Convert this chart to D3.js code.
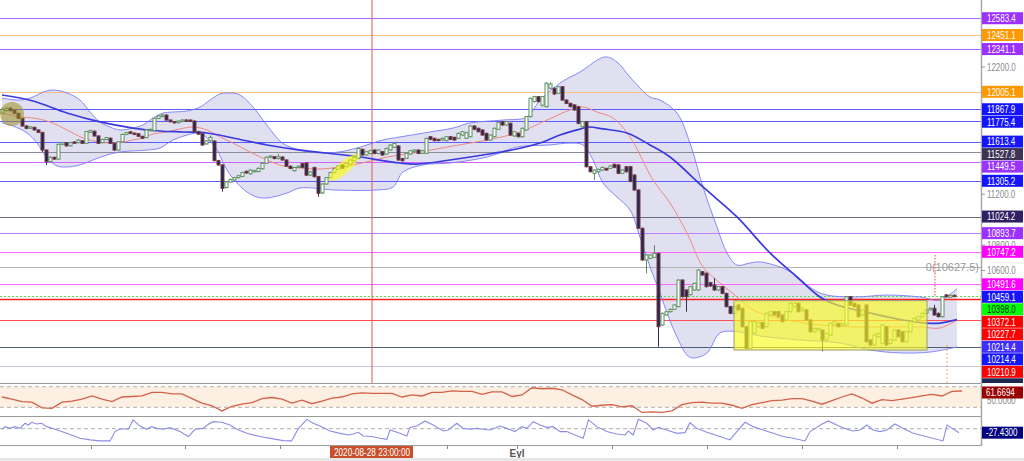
<!DOCTYPE html>
<html lang="tr">
<head>
    <meta charset="UTF-8">
    <script src="https://cdn.jsdelivr.net/npm/d3@7"></script>
    <title>Fiyat grafiği</title>
    <style>
        body { margin: 0; background: #fff; }
        svg { display: block; font-family: "Liberation Sans", Arial, sans-serif; }
    </style>
</head>
<body>
    <svg id="chart" width="1024" height="461"></svg>

    <script>
        // candles (2h bars), index 0 = left edge
        const candleOpen = [
            11836, 11857, 11875, 11862, 11836, 11797, 11736, 11718, 11725, 11705,
            11686, 11547, 11456, 11490, 11476, 11592, 11605, 11580, 11610, 11605,
            11620, 11600, 11686, 11695, 11658, 11605, 11630, 11640, 11600, 11547,
            11612, 11670, 11690, 11680, 11675, 11655, 11645, 11700, 11700, 11795,
            11810, 11822, 11783, 11770, 11762, 11772, 11783, 11783, 11775, 11692,
            11675, 11595, 11620, 11618, 11464, 11430, 11252, 11295, 11312, 11330,
            11340, 11380, 11360, 11380, 11378, 11400, 11443, 11490, 11495, 11480,
            11492, 11469, 11420, 11385, 11410, 11440, 11445, 11350, 11410, 11338,
            11210, 11280, 11330, 11370, 11396, 11430, 11416, 11435, 11463, 11482,
            11553, 11508, 11520, 11547, 11520, 11534, 11516, 11547, 11568, 11579,
            11479, 11482, 11516, 11534, 11547, 11521, 11521, 11652, 11639, 11631,
            11626, 11621, 11652, 11647, 11639, 11665, 11640, 11652, 11736, 11718,
            11705, 11678, 11626, 11652, 11710, 11770, 11744, 11757, 11658, 11678,
            11652, 11705, 11810, 11928, 11967, 11900, 11888, 12033, 12032, 11993,
            12045, 11940, 11914, 11902, 11888, 11731, 11770, 11416, 11364, 11377,
            11390, 11403, 11403, 11435, 11430, 11364, 11416, 11416, 11351, 11233,
            10932, 10683, 10696, 10704, 10735, 10171, 10250, 10276, 10295, 10316,
            10525, 10447, 10410, 10447, 10447, 10591, 10578, 10505, 10486, 10447,
            10473, 10420, 10316, 10263, 10329, 10303, 10158, 9988, 10106, 10158,
            10190, 10158, 10250, 10276, 10276, 10250, 10211, 10276, 10316, 10342,
            10284, 10290, 10211, 10119, 10132, 10132, 10054, 10093, 10171, 10184,
            10163, 10171, 10394, 10342, 10329, 10250, 10329, 10054, 10014, 10080,
            10027, 10158, 10027, 10054, 10132, 10119, 10040, 10119, 10198, 10211,
            10237, 10263, 10290, 10303, 10263, 10237, 10408, 10390, 10405
        ];
        const candleHigh = [
            11880, 11885, 11884, 11868, 11840, 11800, 11742, 11736, 11732, 11710,
            11690, 11552, 11498, 11495, 11598, 11612, 11610, 11612, 11618, 11632,
            11626, 11698, 11708, 11700, 11662, 11636, 11650, 11646, 11604, 11618,
            11676, 11690, 11696, 11686, 11680, 11660, 11710, 11716, 11802, 11822,
            11830, 11828, 11788, 11776, 11780, 11790, 11790, 11788, 11780, 11698,
            11680, 11626, 11660, 11624, 11470, 11436, 11304, 11322, 11336, 11352,
            11376, 11386, 11396, 11392, 11410, 11450, 11496, 11506, 11500, 11516,
            11498, 11474, 11426, 11416, 11426, 11446, 11450, 11380, 11416, 11344,
            11286, 11336, 11376, 11408, 11428, 11436, 11448, 11474, 11496, 11566,
            11558, 11540, 11548, 11552, 11552, 11540, 11566, 11592, 11606, 11584,
            11486, 11526, 11548, 11554, 11552, 11548, 11645, 11658, 11645, 11636,
            11645, 11658, 11658, 11652, 11684, 11696, 11690, 11742, 11742, 11724,
            11710, 11684, 11670, 11724, 11768, 11776, 11776, 11762, 11696, 11684,
            11724, 11816, 11960, 11974, 11972, 11972, 12080, 12080, 12040, 12052,
            12050, 11946, 11920, 11908, 11894, 11776, 11776, 11422, 11396, 11400,
            11416, 11408, 11428, 11440, 11436, 11396, 11422, 11422, 11356, 11238,
            10938, 10728, 10728, 10800, 10740, 10270, 10282, 10300, 10334, 10530,
            10530, 10452, 10478, 10504, 10610, 10596, 10584, 10510, 10540, 10478,
            10478, 10426, 10322, 10322, 10334, 10308, 10164, 10204, 10204, 10196,
            10196, 10270, 10282, 10282, 10282, 10256, 10282, 10348, 10348, 10348,
            10310, 10296, 10216, 10150, 10150, 10138, 10112, 10190, 10204, 10190,
            10186, 10400, 10400, 10348, 10334, 10296, 10334, 10060, 10100, 10112,
            10178, 10164, 10060, 10138, 10138, 10126, 10126, 10204, 10230, 10244,
            10270, 10296, 10310, 10330, 10270, 10400, 10414, 10410, 10410
        ];
        const candleLow = [
            11828, 11850, 11850, 11830, 11790, 11730, 11710, 11712, 11700, 11680,
            11534, 11430, 11445, 11470, 11470, 11585, 11575, 11575, 11595, 11600,
            11594, 11596, 11680, 11652, 11594, 11600, 11624, 11595, 11540, 11540,
            11606, 11664, 11672, 11664, 11650, 11634, 11640, 11694, 11695, 11790,
            11805, 11778, 11764, 11756, 11756, 11766, 11770, 11766, 11686, 11665,
            11580, 11588, 11614, 11458, 11424, 11220, 11246, 11290, 11306, 11324,
            11334, 11360, 11354, 11374, 11372, 11394, 11438, 11484, 11474, 11474,
            11463, 11414, 11396, 11378, 11404, 11404, 11344, 11344, 11330, 11180,
            11200, 11274, 11324, 11364, 11390, 11398, 11410, 11430, 11458, 11478,
            11502, 11502, 11514, 11514, 11514, 11502, 11510, 11540, 11562, 11462,
            11456, 11476, 11510, 11528, 11515, 11516, 11516, 11625, 11615, 11615,
            11620, 11615, 11625, 11620, 11634, 11660, 11634, 11646, 11704, 11686,
            11660, 11620, 11620, 11646, 11704, 11738, 11738, 11658, 11650, 11646,
            11646, 11700, 11804, 11920, 11920, 11888, 11882, 12025, 11980, 11988,
            11934, 11908, 11882, 11856, 11750, 11725, 11410, 11370, 11312, 11370,
            11384, 11384, 11398, 11404, 11358, 11358, 11370, 11294, 11226, 10926,
            10676, 10578, 10690, 10698, 10001, 10164, 10244, 10270, 10290, 10310,
            10388, 10276, 10404, 10440, 10440, 10558, 10466, 10472, 10440, 10440,
            10414, 10310, 10256, 10256, 10284, 10152, 9982, 9982, 10100, 10152,
            10138, 10152, 10244, 10244, 10230, 10192, 10204, 10270, 10310, 10270,
            10278, 10204, 10112, 10112, 10126, 9965, 10048, 10086, 10164, 10152,
            10156, 10164, 10322, 10310, 10230, 10244, 10034, 10008, 10008, 10074,
            10020, 10008, 10020, 10048, 10074, 10034, 10034, 10112, 10192, 10204,
            10230, 10256, 10284, 10244, 10230, 10230, 10388, 10384, 10392
        ];
        const candleClose = [
            11867, 11875, 11857, 11836, 11797, 11736, 11718, 11730, 11705, 11686,
            11547, 11456, 11490, 11476, 11592, 11605, 11580, 11605, 11600, 11625,
            11600, 11692, 11700, 11658, 11600, 11630, 11645, 11600, 11547, 11612,
            11670, 11684, 11678, 11670, 11655, 11640, 11705, 11710, 11797, 11815,
            11822, 11783, 11770, 11762, 11775, 11783, 11775, 11772, 11692, 11672,
            11587, 11620, 11647, 11464, 11430, 11246, 11297, 11316, 11330, 11345,
            11370, 11367, 11390, 11385, 11403, 11443, 11490, 11500, 11480, 11495,
            11469, 11420, 11402, 11410, 11420, 11410, 11350, 11375, 11338, 11207,
            11280, 11330, 11370, 11403, 11422, 11403, 11443, 11469, 11490, 11560,
            11508, 11534, 11542, 11520, 11547, 11508, 11560, 11586, 11600, 11469,
            11464, 11521, 11542, 11547, 11521, 11542, 11639, 11631, 11621, 11621,
            11639, 11652, 11631, 11626, 11678, 11691, 11684, 11736, 11710, 11691,
            11665, 11626, 11665, 11718, 11762, 11744, 11770, 11665, 11691, 11652,
            11718, 11810, 11954, 11967, 11928, 11967, 12072, 12066, 11988, 12045,
            11940, 11914, 11888, 11862, 11757, 11770, 11416, 11377, 11390, 11395,
            11411, 11390, 11422, 11411, 11364, 11390, 11377, 11300, 11233, 10932,
            10683, 10722, 10722, 10735, 10158, 10263, 10276, 10295, 10329, 10525,
            10394, 10394, 10473, 10499, 10604, 10565, 10473, 10478, 10447, 10473,
            10420, 10316, 10263, 10316, 10290, 10158, 9988, 10198, 10198, 10190,
            10145, 10263, 10276, 10250, 10237, 10198, 10276, 10342, 10342, 10276,
            10303, 10211, 10119, 10145, 10145, 10054, 10106, 10184, 10198, 10158,
            10180, 10394, 10329, 10316, 10237, 10290, 10040, 10014, 10093, 10106,
            10171, 10014, 10054, 10132, 10080, 10040, 10119, 10198, 10224, 10237,
            10263, 10290, 10303, 10250, 10237, 10394, 10394, 10405, 10398
        ];

        // bollinger band edges, its middle line and the slow average: [bar index, price]
        const upperBand = [[0,11956],[4.5,11940],[7.75,11964],[10.25,12003],[12.75,12019],[16.25,11996],[19.5,11940],[22,11846],[24.5,11768],[27,11728],[29.5,11705],[32.75,11720],[35.25,11744],[37.75,11799],[40.25,11838],[42.75,11846],[46.25,11854],[49.5,11885],[52,11940],[54.5,11988],[57,11996],[59.5,11980],[62.75,11886],[65.25,11783],[67.75,11681],[70.25,11598],[74.5,11547],[79.5,11525],[84.5,11533],[88.75,11563],[95.25,11626],[99.5,11650],[107,11689],[112.75,11720],[117,11760],[125.25,11783],[131.25,11807],[134.5,11940],[139.5,12074],[144.5,12161],[150.75,12279],[153.75,12239],[157,12121],[162,11964],[164.5,11940],[168.75,11838],[172,11602],[175.25,11256],[178.75,10942],[181.25,10738],[183.75,10643],[187,10659],[189.5,10667],[196.25,10604],[204.5,10423],[212.75,10392],[221.25,10407],[229.5,10392],[234.5,10368],[238.75,10459.1]];
        const lowerBand = [[0,11760],[2.75,11736],[6.25,11681],[8.75,11602],[11.25,11485],[13.75,11422],[16.25,11414],[19.5,11430],[22.75,11469],[26.25,11508],[29.5,11532],[36.25,11547],[39.5,11563],[42.75,11626],[46.25,11665],[49.5,11681],[51.25,11642],[53.75,11547],[56.25,11390],[58.75,11288],[61.25,11217],[63.75,11178],[66.25,11170],[71.25,11209],[74.5,11249],[83.25,11233],[93.75,11233],[97.75,11256],[100.25,11374],[105.25,11430],[112,11445],[120.25,11485],[124.5,11524],[128.75,11571],[137,11587],[142,11602],[145.25,11587],[147.75,11469],[150.25,11288],[153.75,11178],[157,11076],[159.5,10863],[162,10628],[164.5,10423],[166.25,10266],[168.75,10077],[171.25,9936],[172.75,9912],[176.25,9952],[179.5,10109],[184.5,10117],[189.5,10085],[199.5,10054],[209.5,10030],[217,9975],[224.5,9952],[232,9959],[238.75,9999]];
        const middleLine = [[0,11838],[4.5,11807],[7.75,11799],[12,11768],[16.25,11705],[20.25,11642],[24.5,11610],[28.75,11602],[32.75,11626],[35.25,11642],[37.75,11673],[41.25,11689],[44.5,11713],[47.75,11728],[51.25,11705],[54.5,11650],[57.75,11602],[62,11532],[66.25,11469],[70.25,11422],[74.5,11406],[79.5,11398],[87.75,11430],[96.25,11492],[104.5,11532],[112.75,11579],[121.25,11626],[129.5,11689],[136.25,11783],[142,11862],[145.25,11886],[148.75,11846],[152.75,11799],[157,11650],[162.75,11312],[167,11131],[171.25,10895],[175.25,10628],[179.5,10502],[183.75,10392],[187.75,10290],[196.25,10211],[204.5,10172],[212.75,10156],[221.25,10156],[229.5,10156],[234.5,10148],[238.75,10210.9]];
        const slowAverage = [[0,11980],[7.75,11933],[16.25,11838],[24.5,11768],[32.75,11720],[39.5,11697],[45.25,11689],[51.25,11681],[57.75,11642],[66.25,11587],[74.5,11547],[87.75,11500],[99.5,11445],[103.75,11437],[112,11469],[120.25,11508],[128.75,11555],[135.25,11610],[139.5,11665],[144.5,11712],[146.75,11728],[150.25,11713],[156.25,11681],[162,11587],[167,11492],[175.25,11257],[183.75,11021],[192,10738],[198.75,10549],[204.5,10392],[208.75,10329],[217,10266],[225.25,10211],[231.25,10187],[234.5,10187],[238.75,10214.4]];

        // RSI, one reading every 2.5 bars
        const rsiValues = [
            50, 46, 41, 40, 29, 28, 40, 42, 46, 52,
            46, 41, 50, 51, 52, 59, 59, 56, 56, 47,
            38, 33, 23, 32, 36, 39, 47, 49, 46, 38,
            44, 37, 42, 48, 50, 56, 58, 57, 57, 57,
            50, 54, 52, 59, 59, 62, 61, 61, 55, 60,
            60, 51, 54, 68, 66, 67, 64, 54, 45, 32,
            34, 35, 31, 33, 20, 21, 20, 23, 35, 39,
            40, 38, 38, 34, 28, 35, 39, 43, 44, 47,
            47, 42, 36, 43, 50, 56, 48, 38, 45, 43,
            46, 49, 52, 55, 52, 61, 61.6694
        ];
        const rsiStep = 2.5;

        // lower oscillator turning points: [bar index, value]
        const oscPoints = [[0,-4],[0.75,14],[2,2],[3.25,14],[4.5,2],[5.75,37],[6.6,25],[7.4,44],[8.7,32],[9.9,37],[11.2,14],[13.25,-4],[16.2,-32],[19.5,-66],[22,-77],[24.5,-84],[27,-84],[28.25,-20],[29.5,-2],[31.6,-2],[32.8,60],[34.5,18],[36.2,-4],[37.4,14],[38.7,2],[40.3,-4],[42,7],[44.5,-20],[46.6,-54],[48.25,-4],[50.3,2],[51.6,30],[52.8,48],[54.9,44],[57,25],[58.7,-4],[61.2,-32],[64.5,-54],[67.8,-70],[70.3,-82],[72.4,-84],[74.1,2],[74.9,25],[76.2,64],[77.8,37],[79.5,18],[82,-16],[84.5,-32],[86.6,-43],[87.8,-36],[89.1,-25],[90.3,-50],[92.4,-54],[94.5,-66],[96.2,-73],[97,-9],[99.5,-32],[101.2,-50],[102,9],[103.7,18],[105.75,53],[107.8,25],[110.3,-16],[111.6,-9],[113.7,37],[115.3,2],[117,-4],[118.7,2],[120.3,-4],[122,-9],[124.5,18],[126.2,2],[128.25,-20],[129.9,14],[131.2,2],[132.8,48],[134.5,25],[136.2,9],[137.8,14],[139.5,-20],[141.2,-20],[143.25,-43],[145.3,-66],[146.6,60],[148.7,14],[151.2,-20],[153.7,-36],[155.75,-43],[156.6,-16],[157.8,-43],[159.1,64],[161.2,37],[162.8,-9],[164.1,9],[166.2,-9],[168.7,-32],[170.75,-27],[172,41],[173.7,2],[176.2,-25],[179.5,-54],[182,-77],[183.7,-20],[185.75,44],[187.8,14],[190.3,-9],[192.8,-32],[195.3,-54],[197.8,-66],[200.75,-84],[202,-20],[203.7,9],[204.9,30],[206.6,53],[208.7,25],[211.2,-4],[212.8,-16],[214.5,-9],[216.2,25],[217.8,-9],[219.5,-20],[221.2,-9],[223.25,32],[225.3,2],[227.8,-32],[235.25,-84],[236.25,25],[239.25,-27.43]];

        // drawn horizontal levels
        const levelValues = [12583.4, 12451.1, 12341.1, 12005.1, 11867.9, 11775.4, 11613.4, 11527.8, 11449.5, 11305.2, 11024.2, 10893.7, 10747.2, 10627.5, 10491.6, 10398.0, 10372.1, 10210.9, 9999.0, 9849.0];
        const levelColors = ["#b366ff", "#ffc080", "#b366ff", "#ffc080", "#5b5bff", "#5b5bff", "#5b5bff", "#8c8c99", "#cc66ff", "#5b5bff", "#6b6b88", "#c080ff", "#ff66ff", "#b4b4b4", "#ff66ff", "#55dd55", "#ff2020", "#ff5050", "#4a5f7a", "#cfc8e0"];

        // price tags on the right axis (the last one sits below the panel edge)
        const tagValues = [12583.4, 12451.1, 12341.1, 12005.1, 11867.9, 11775.4, 11613.4, 11527.8, 11449.5, 11305.2, 11024.2, 10893.7, 10747.2, 10491.6, 10459.1, 10398.0, 10372.1, 10227.7, 10214.4, 10214.4, 10210.9, 9999.0];
        const tagColors = ["#9b30ff", "#ff9900", "#9b30ff", "#ff9900", "#1414ff", "#1414ff", "#1414ff", "#3d3354", "#9933ff", "#1414ff", "#2f1f63", "#9b30ff", "#ff00ff", "#ff00ff", "#1414ff", "#00ff00", "#ff0000", "#ff0000", "#3f2cff", "#1414ff", "#ff0000", "#1b2a4e"];

        // only the axis numbers that are not covered by tags
        const priceTicks = [10600, 10800, 11200, 12200];
        const timeTicks = [22.25, 45.75, 69.5, 92.5, 111.25, 128.75, 152.5, 176.25, 200, 223.75];
        const timeTickLabels = ["", "", "", "", "", "Eyl", "", "", "", ""];
        const crossIndex = 92.5;
        const crossLabel = "2020-08-28 23:00:00";

        const rangeBox = { from: 183, to: 231.25, top: 10363, bottom: 9975 };
        const trendMark = { from: [82, 11312], to: [89, 11508] };
        const startMark = [2.5, 11830];
        const fibLabel = "0(10627.5)";
        const redMarker = { at: 233.25, top: 10722, bottom: 10392 };
        const orangeMarker = { at: 236.25, top: 10014 };

        const plotRight = 981;
        const mainBottom = 383;
        const svg = d3.select("#chart");

        const x = d3.scaleLinear().domain([-0.5, 244.75]).range([0, plotRight]);
        const y = d3.scaleLinear().domain([9715.6, 12726.7]).range([mainBottom, 0]);
        const yRsi = d3.scaleLinear().domain([13.1, 77.2]).range([416, 383]);
        const yOsc = d3.scaleLinear().domain([-112, 87]).range([445, 416]);

        // narrow axis numbers: squeeze the glyphs sideways
        const axisText = (g, tx, ty, str, color) => g.append("text")
            .attr("transform", `translate(${tx},${ty}) scale(0.76,1)`)
            .attr("dy", "0.36em")
            .attr("fill", color)
            .style("font-size", "10.5px")
            .text(str);

        const defs = svg.append("defs");
        defs.append("clipPath").attr("id", "mainClip")
            .append("rect").attr("x", 0).attr("y", 0).attr("width", plotRight).attr("height", mainBottom);
        defs.append("clipPath").attr("id", "subClip")
            .append("rect").attr("x", 0).attr("y", mainBottom).attr("width", plotRight).attr("height", 62);
        defs.append("clipPath").attr("id", "tagClip")
            .append("rect").attr("x", plotRight).attr("y", 0).attr("width", 50).attr("height", mainBottom);

        const main = svg.append("g").attr("clip-path", "url(#mainClip)");

        // band fill
        const bandLine = d3.line().x(d => x(d[0])).y(d => y(d[1])).curve(d3.curveCatmullRom);
        const upperPath = bandLine(upperBand);
        const lowerPath = bandLine(lowerBand.slice().reverse());
        main.append("path")
            .attr("d", upperPath + "L" + lowerPath.slice(1) + "Z")
            .attr("fill", "#9999cc")
            .attr("fill-opacity", 0.3);

        // horizontal levels
        main.selectAll(".level")
            .data(levelValues)
            .join("line")
            .attr("class", "level")
            .attr("x1", 0).attr("x2", plotRight)
            .attr("y1", d => Math.round(y(d)) + 0.5).attr("y2", d => Math.round(y(d)) + 0.5)
            .attr("stroke", (d, i) => levelColors[i])
            .attr("stroke-width", d => d === 10372.1 ? 1.4 : 1)
            .attr("stroke-dasharray", d => d === 10398.0 ? "2,2" : null);

        main.append("text")
            .attr("x", 979).attr("y", y(10627.5))
            .attr("dy", "0.35em")
            .attr("text-anchor", "end")
            .attr("fill", "#9a9a9a")
            .style("font-size", "11px")
            .text(fibLabel);

        // crosshair
        main.append("line")
            .attr("x1", x(crossIndex)).attr("x2", x(crossIndex))
            .attr("y1", 0).attr("y2", mainBottom)
            .attr("stroke", "#e05a4a").attr("stroke-width", 1);

        // band edges and averages
        [upperBand, lowerBand].forEach(band => {
            main.append("path").attr("d", bandLine(band))
                .attr("fill", "none").attr("stroke", "#7b7bff").attr("stroke-width", 0.9);
        });
        main.append("path").attr("d", bandLine(middleLine))
            .attr("fill", "none").attr("stroke", "#f08a80").attr("stroke-width", 1);
        main.append("path").attr("d", bandLine(slowAverage))
            .attr("fill", "none").attr("stroke", "#3a3ae0").attr("stroke-width", 1.7);

        // candles
        const bars = d3.range(candleClose.length);
        const isUp = i => candleClose[i] >= candleOpen[i];
        main.selectAll(".wick")
            .data(bars)
            .join("line")
            .attr("class", "wick")
            .attr("x1", i => Math.round(x(i)) + 0.5).attr("x2", i => Math.round(x(i)) + 0.5)
            .attr("y1", i => y(candleHigh[i])).attr("y2", i => y(candleLow[i]))
            .attr("stroke", i => isUp(i) ? "#5a8f60" : "#2c3150")
            .attr("stroke-width", 1);
        main.selectAll(".body")
            .data(bars)
            .join("rect")
            .attr("class", "body")
            .attr("x", i => Math.round(x(i)) - 1)
            .attr("width", 3)
            .attr("y", i => y(Math.max(candleOpen[i], candleClose[i])))
            .attr("height", i => Math.max(1.2, Math.abs(y(candleOpen[i]) - y(candleClose[i]))))
            .attr("fill", i => isUp(i) ? "#ffffff" : "#1b2858")
            .attr("stroke", i => isUp(i) ? "#5a8f60" : "#7d3a40")
            .attr("stroke-width", 1);

        // markings on top
        main.append("rect")
            .attr("x", x(rangeBox.from)).attr("width", x(rangeBox.to) - x(rangeBox.from))
            .attr("y", y(rangeBox.top)).attr("height", y(rangeBox.bottom) - y(rangeBox.top))
            .attr("fill", "#fafa22").attr("fill-opacity", 0.66)
            .attr("stroke", "#9a9a7a").attr("stroke-width", 1);

        const ex0 = x(trendMark.from[0]), ey0 = y(trendMark.from[1]);
        const ex1 = x(trendMark.to[0]), ey1 = y(trendMark.to[1]);
        const angle = Math.atan2(ey1 - ey0, ex1 - ex0) * 180 / Math.PI;
        main.append("ellipse")
            .attr("cx", (ex0 + ex1) / 2).attr("cy", (ey0 + ey1) / 2)
            .attr("rx", Math.hypot(ex1 - ex0, ey1 - ey0) / 2).attr("ry", 6)
            .attr("transform", `rotate(${angle},${(ex0 + ex1) / 2},${(ey0 + ey1) / 2})`)
            .attr("fill", "#ffff00").attr("fill-opacity", 0.6);

        main.append("circle")
            .attr("cx", x(startMark[0])).attr("cy", y(startMark[1])).attr("r", 12)
            .attr("fill", "#9c9020").attr("fill-opacity", 0.55);

        main.append("line")
            .attr("x1", x(redMarker.at)).attr("x2", x(redMarker.at))
            .attr("y1", y(redMarker.top)).attr("y2", y(redMarker.bottom))
            .attr("stroke", "#ff4040").attr("stroke-dasharray", "1.5,1.5");
        main.append("line")
            .attr("x1", x(orangeMarker.at)).attr("x2", x(orangeMarker.at))
            .attr("y1", y(orangeMarker.top)).attr("y2", mainBottom)
            .attr("stroke", "#ffa040").attr("stroke-dasharray", "2,2");

        // indicator panels
        const sub = svg.append("g").attr("clip-path", "url(#subClip)");
        sub.append("rect")
            .attr("x", 0).attr("width", plotRight)
            .attr("y", yRsi(70)).attr("height", yRsi(30) - yRsi(70))
            .attr("fill", "#fdf0e2");
        [70, 30].forEach(v => {
            sub.append("line").attr("x1", 0).attr("x2", plotRight)
                .attr("y1", yRsi(v)).attr("y2", yRsi(v))
                .attr("stroke", "#b0b0b0").attr("stroke-dasharray", "4,3");
        });
        sub.append("line").attr("x1", 0).attr("x2", plotRight)
            .attr("y1", yOsc(0)).attr("y2", yOsc(0))
            .attr("stroke", "#b0b0b0").attr("stroke-dasharray", "4,3");

        sub.append("path")
            .datum(rsiValues)
            .attr("d", d3.line().x((d, k) => x(k * rsiStep)).y(d => yRsi(d)))
            .attr("fill", "none").attr("stroke", "#d4604a").attr("stroke-width", 1.3);
        sub.append("path")
            .datum(oscPoints)
            .attr("d", d3.line().x(d => x(d[0])).y(d => yOsc(d[1])))
            .attr("fill", "none").attr("stroke", "#8c8ce6").attr("stroke-width", 1.1);

        // frame
        [383, 416, 445].forEach(py => {
            svg.append("line").attr("x1", 0).attr("x2", plotRight)
                .attr("y1", py + 0.5).attr("y2", py + 0.5)
                .attr("stroke", "#9a9a9a").attr("stroke-width", 1);
        });
        svg.append("line")
            .attr("x1", plotRight + 0.5).attr("x2", plotRight + 0.5)
            .attr("y1", 0).attr("y2", 446)
            .attr("stroke", "#a8a8a8").attr("stroke-width", 1.5);

        // right price axis
        const axisG = svg.append("g");
        axisG.selectAll(".ptick")
            .data(priceTicks)
            .join("line")
            .attr("class", "ptick")
            .attr("x1", plotRight).attr("x2", plotRight + 4)
            .attr("y1", d => y(d)).attr("y2", d => y(d)).attr("stroke", "#999");
        priceTicks.forEach(d => axisText(axisG, plotRight + 6, y(d), d3.format(".1f")(d), "#8a8a8a"));
        axisText(axisG, plotRight + 6, yRsi(50) + 3, "50.0000", "#8a8a8a");

        // stacked tags, each pushed below the previous one
        const tagLayer = svg.append("g").attr("clip-path", "url(#tagClip)");
        let lastY = -100;
        tagValues.forEach((v, i) => {
            const ty = Math.max(y(v), lastY + 12.5);
            lastY = ty;
            tagLayer.append("rect")
                .attr("x", plotRight + 1).attr("y", ty - 6)
                .attr("width", 41).attr("height", 12)
                .attr("fill", tagColors[i]);
            if (ty + 6 < mainBottom) {
                axisText(tagLayer, plotRight + 6, ty, d3.format(".1f")(v),
                    tagColors[i] === "#00ff00" ? "#1a1a1a" : "#ffffff");
            }
        });

        const subTags = [[yRsi(rsiValues[rsiValues.length - 1]) + 1.5, "#990000", "61.6694"], [yOsc(-27.43), "#000080", "-27.4300"]];
        subTags.forEach(t => {
            svg.append("rect").attr("x", plotRight + 1).attr("y", t[0] - 6)
                .attr("width", 41).attr("height", 12).attr("fill", t[1]);
            axisText(svg, plotRight + 5, t[0], t[2], "#ffffff");
        });

        // time axis
        const tAxis = svg.append("g");
        tAxis.selectAll(".ttick")
            .data(timeTicks)
            .join("line")
            .attr("class", "ttick")
            .attr("x1", d => Math.round(x(d)) + 0.5).attr("x2", d => Math.round(x(d)) + 0.5)
            .attr("y1", 446).attr("y2", 449)
            .attr("stroke", "#888");
        tAxis.selectAll(".tlabel")
            .data(timeTicks)
            .join("text")
            .attr("class", "tlabel")
            .attr("x", d => x(d)).attr("y", 453).attr("dy", "0.35em")
            .attr("text-anchor", "middle")
            .attr("fill", "#555").style("font-size", "10px").style("font-weight", "bold")
            .text((d, i) => timeTickLabels[i]);

        tAxis.append("rect")
            .attr("x", x(crossIndex) - 42).attr("y", 446)
            .attr("width", 83).attr("height", 13)
            .attr("fill", "#c9502b");
        tAxis.append("text")
            .attr("transform", `translate(${x(crossIndex)},452.5) scale(0.82,1)`)
            .attr("dy", "0.35em")
            .attr("text-anchor", "middle")
            .attr("fill", "#fff")
            .style("font-size", "10px")
            .text(crossLabel);

        svg.append("rect").attr("x", 0).attr("y", 458).attr("width", 1024).attr("height", 3).attr("fill", "#e6e6e6");
    </script>
</body>
</html>
